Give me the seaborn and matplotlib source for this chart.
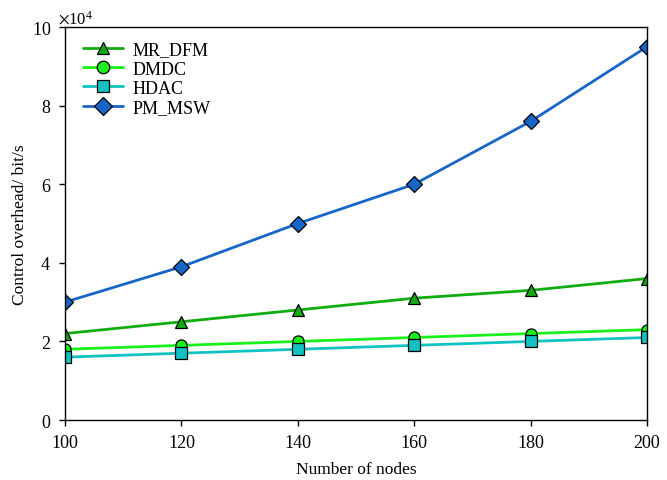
import matplotlib

matplotlib.use("Agg")
import matplotlib.pyplot as plt
import pandas as pd
import seaborn as sns

nodes = [100, 120, 140, 160, 180, 200]
mr_dfm = [22000, 25000, 28000, 31000, 33000, 36000]
dmdc = [18000, 19000, 20000, 21000, 22000, 23000]
hdac = [16000, 17000, 18000, 19000, 20000, 21000]
pm_msw = [30000, 39000, 50000, 60000, 76000, 95000]

series_names = ["MR_DFM", "DMDC", "HDAC", "PM_MSW"]
series_values = [mr_dfm, dmdc, hdac, pm_msw]
colors = {"MR_DFM": "#10ad10", "DMDC": "#1cf01c", "HDAC": "#12c2c2", "PM_MSW": "#1765c6"}
markers = {"MR_DFM": "^", "DMDC": "o", "HDAC": "s", "PM_MSW": "D"}

rows = []
for name, values in zip(series_names, series_values):
    for n, v in zip(nodes, values):
        rows.append({"nodes": n, "overhead": v, "method": name})
df = pd.DataFrame(rows)

sns.set_style("ticks")
plt.rcParams["font.family"] = ["Liberation Serif", "DejaVu Serif"]
plt.rcParams["mathtext.fontset"] = "stix"
plt.rcParams["text.color"] = "black"
plt.rcParams["axes.labelcolor"] = "black"
plt.rcParams["xtick.color"] = "black"
plt.rcParams["ytick.color"] = "black"

fig = plt.figure(figsize=(6.67, 4.81), dpi=100)
ax = fig.add_axes([0.0975, 0.1247, 0.8726, 0.817])

sns.lineplot(
    data=df, x="nodes", y="overhead", hue="method", style="method",
    hue_order=series_names, style_order=series_names,
    palette=colors, markers=markers, dashes=False,
    linewidth=2, markersize=8, markeredgecolor="black", markeredgewidth=0.9,
    ax=ax,
)

ax.set_xlim(100, 200)
ax.set_ylim(0, 100000)
ax.set_xticks(nodes)
ax.set_yticks([0, 20000, 40000, 60000, 80000, 100000])
ax.ticklabel_format(axis="y", style="sci", scilimits=(4, 4), useMathText=True)
offset = ax.yaxis.get_offset_text()
offset.set_fontsize(12)
offset.set_x(-0.012)
ax.tick_params(labelsize=13, direction="out", length=4, width=1, pad=6,
               colors="black")
ax.set_xlabel("Number of nodes", fontsize=12.5, labelpad=7, color="black")
ax.set_ylabel("Control overhead/ bit/s", fontsize=12.5, labelpad=3, color="black")
for spine in ax.spines.values():
    spine.set_visible(True)
    spine.set_linewidth(1)
    spine.set_color("black")

leg = ax.legend(loc="upper left", frameon=False, fontsize=13, handlelength=2.2,
                handletextpad=0.55, borderaxespad=0, labelspacing=0.12,
                bbox_to_anchor=(0.019, 0.982))
for h in leg.legend_handles:
    h.set_markeredgecolor("black")
    h.set_markersize(9)
for t in leg.get_texts():
    t.set_color("black")

fig.savefig("out.png", dpi=100)
